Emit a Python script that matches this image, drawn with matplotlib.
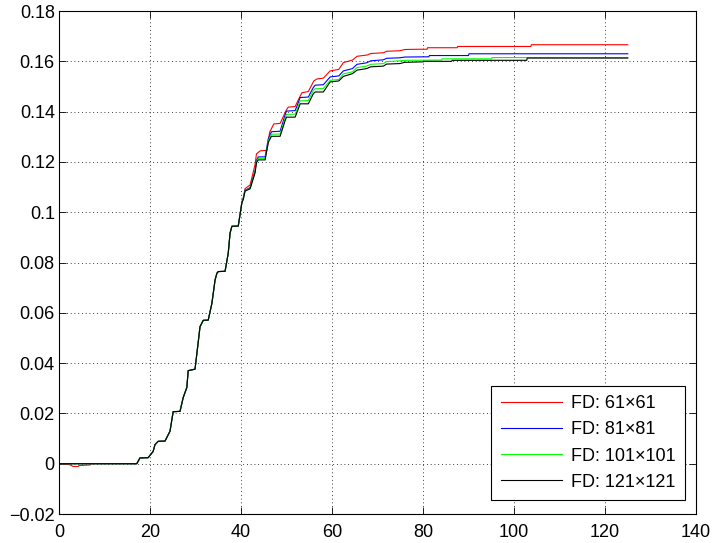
import matplotlib.pyplot as plt
from matplotlib.ticker import FuncFormatter

plt.rcParams['font.family'] = ['Liberation Sans', 'DejaVu Sans']

# shared start of the rise (all four grids agree here)
x_rise = [17.1, 17.8, 19.6, 20.7, 21.1, 21.8, 23.3, 24.4, 25.0, 25.1, 26.6, 27.3,
          28.1, 28.4, 29.9, 30.6, 31.0, 31.7, 32.8, 33.6, 34.3, 34.7, 35.0, 36.5,
          37.2, 37.6, 38.0, 39.4]
y_rise = [0.0, 0.0023, 0.0024, 0.0049, 0.0076, 0.0089, 0.0090, 0.0129, 0.0196, 0.0207,
          0.0208, 0.0263, 0.0303, 0.0370, 0.0376, 0.0483, 0.0545, 0.0570, 0.0571,
          0.0637, 0.0730, 0.0757, 0.0764, 0.0765, 0.0837, 0.0917, 0.0944, 0.0945]

# 61x61 (red)
x_61 = [0, 2.4, 3.1, 4.2, 4.5, 6.8, 7.2] + x_rise + [
    40.2, 40.5, 40.9, 42.0, 43.1, 43.4, 44.2, 45.7, 46.3, 47.2, 48.6, 49.9, 50.4,
    51.9, 52.6, 53.4, 54.8, 56.0, 56.7, 58.1, 59.6, 61.5, 62.5, 64.5, 65.5, 67.7,
    68.5, 71.3, 72.0, 74.9, 76.0, 79.0, 80.9, 81.0, 87.5, 87.6, 103.7, 103.8, 125]
y_61 = [0, -0.0004, -0.0011, -0.0011, -0.0007, -0.0005, 0.0] + y_rise + [
    0.1040, 0.1058, 0.1094, 0.1108, 0.1190, 0.1232, 0.1244, 0.1246, 0.1318, 0.1351,
    0.1353, 0.1404, 0.1418, 0.1420, 0.1447, 0.1475, 0.1480, 0.1522, 0.1530, 0.1533,
    0.1562, 0.1568, 0.1595, 0.1605, 0.1620, 0.1625, 0.1631, 0.1634, 0.1640, 0.1642,
    0.1647, 0.1648, 0.1648, 0.1654, 0.1654, 0.1659, 0.1659, 0.1666, 0.1666]

# 81x81 (blue)
x_81 = [0] + x_rise + [
    40.2, 40.5, 40.9, 42.0, 43.1, 43.4, 43.8, 45.3, 46.0, 46.7, 48.6, 49.7, 50.0,
    51.9, 52.6, 53.0, 54.8, 55.9, 56.3, 58.1, 59.6, 61.5, 62.5, 64.5, 65.5, 67.6,
    68.5, 71.3, 72.0, 74.9, 76.0, 81.3, 81.4, 90.0, 90.1, 125]
y_81 = [0] + y_rise + [
    0.1040, 0.1054, 0.1087, 0.1098, 0.1165, 0.1206, 0.1220, 0.1220, 0.1292, 0.1320,
    0.1322, 0.1387, 0.1402, 0.1404, 0.1436, 0.1456, 0.1458, 0.1496, 0.1505, 0.1507,
    0.1538, 0.1542, 0.1562, 0.1571, 0.1588, 0.1594, 0.1602, 0.1606, 0.1612, 0.1614,
    0.1617, 0.1618, 0.1623, 0.1623, 0.1630, 0.1630]

# 101x101 (green)
x_101 = [0] + x_rise + [
    40.2, 40.5, 40.9, 42.0, 43.1, 43.4, 43.8, 45.3, 46.0, 46.7, 48.6, 49.7, 50.0,
    51.9, 52.6, 53.0, 54.8, 55.9, 56.3, 58.1, 59.6, 61.5, 62.5, 64.5, 65.5, 67.6,
    68.5, 71.3, 72.0, 74.9, 76.0, 84.1, 84.2, 95.1, 95.2, 125]
y_101 = [0] + y_rise + [
    0.1038, 0.1052, 0.1085, 0.1095, 0.1160, 0.1201, 0.1213, 0.1213, 0.1284, 0.1310,
    0.1311, 0.1374, 0.1389, 0.1390, 0.1423, 0.1443, 0.1444, 0.1484, 0.1491, 0.1492,
    0.1524, 0.1528, 0.1550, 0.1558, 0.1575, 0.1581, 0.1588, 0.1591, 0.1599, 0.1602,
    0.1604, 0.1605, 0.1610, 0.1610, 0.1615, 0.1615]

# 121x121 (black)
x_121 = [0] + x_rise + [
    40.2, 40.5, 40.9, 42.0, 43.1, 43.4, 43.8, 45.3, 46.0, 46.7, 48.6, 49.7, 50.0,
    51.9, 52.6, 53.0, 54.8, 55.9, 56.3, 58.1, 59.6, 61.5, 62.5, 64.5, 65.5, 67.6,
    68.5, 71.3, 72.0, 74.9, 76.0, 80.1, 80.2, 86.3, 86.4, 102.8, 102.9, 125]
y_121 = [0] + y_rise + [
    0.1037, 0.1051, 0.1084, 0.1093, 0.1157, 0.1197, 0.1208, 0.1208, 0.1278, 0.1302,
    0.1302, 0.1364, 0.1378, 0.1378, 0.1411, 0.1431, 0.1431, 0.1471, 0.1478, 0.1478,
    0.1518, 0.1522, 0.1540, 0.1551, 0.1565, 0.1571, 0.1578, 0.1581, 0.1589, 0.1591,
    0.1596, 0.1598, 0.1600, 0.1600, 0.1604, 0.1604, 0.1613, 0.1613]

labels = ['FD: 61\u00d761', 'FD: 81\u00d781', 'FD: 101\u00d7101', 'FD: 121\u00d7121']
x_ticks = [0, 20, 40, 60, 80, 100, 120, 140]
y_ticks = [-0.02, 0, 0.02, 0.04, 0.06, 0.08, 0.1, 0.12, 0.14, 0.16, 0.18]

fig = plt.figure(figsize=(7.13, 5.43), dpi=100)
ax = fig.add_axes([0.0827, 0.0534, 0.8935, 0.9263])

ax.plot(x_61, y_61, color='#ff0000', lw=0.8, label=labels[0])
ax.plot(x_81, y_81, color='#0000ff', lw=0.8, label=labels[1])
ax.plot(x_101, y_101, color='#00ff00', lw=0.8, label=labels[2])
ax.plot(x_121, y_121, color='#000000', lw=0.8, label=labels[3])

ax.set_xlim(0, 140)
ax.set_ylim(-0.02, 0.18)
ax.set_xticks(x_ticks)
ax.set_yticks(y_ticks)
ax.yaxis.set_major_formatter(FuncFormatter(lambda v, p: ('%g' % round(v, 4)).replace('-', '\u2212')))
ax.tick_params(direction='in', top=True, right=True, length=5, width=0.6,
               labelsize=13, pad=3)
ax.tick_params(axis='x', pad=7)
ax.grid(True, color='black', linestyle=(0, (1, 3.5)), linewidth=0.6)
for s in ax.spines.values():
    s.set_linewidth(0.8)

leg = ax.legend(loc='lower right', bbox_to_anchor=(0.983, 0.028), borderaxespad=0,
                fontsize=13, handlelength=3.4, handletextpad=0.5, fancybox=False,
                edgecolor='black', framealpha=1, labelspacing=0.5, borderpad=0.52)
leg.get_frame().set_linewidth(0.8)

plt.savefig('out.png', dpi=100)
